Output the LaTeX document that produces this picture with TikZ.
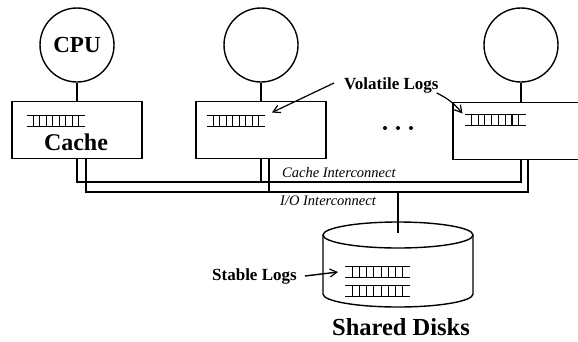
\documentclass[tikz,border=0pt]{standalone}
\usepackage{fontspec}
\setmainfont{Liberation Serif}
\usetikzlibrary{arrows.meta,calc}

\tikzset{
  unit/.style={circle, draw, line width=1.4pt, minimum size=74pt, inner sep=0pt},
  cachebox/.style={rectangle, draw, line width=1.4pt, minimum width=130pt, minimum height=57pt, inner sep=0pt},
  wire/.style={line width=1.6pt},
  bus/.style={line width=1.9pt},
  strip/.style={line width=1.4pt},
  rung/.style={line width=1.1pt},
  arr/.style={line width=1.2pt, -{Straight Barb[length=7pt, width=8pt, line width=1.2pt]}},
  biglabel/.style={font=\fontsize{24}{24}\selectfont\bfseries, inner sep=0pt},
  midlabel/.style={font=\fontsize{17}{17}\selectfont\bfseries, inner sep=0pt},
  buslabel/.style={font=\fontsize{14.5}{14.5}\selectfont\itshape, inner sep=0pt},
  pics/logstrip/.style={code={
    \node[minimum width=#1, minimum height=11pt, inner sep=0pt, outer sep=0pt] (-s) at (0,0) {};
    \draw[strip] (-s.north west) -- (-s.north east) (-s.south west) -- (-s.south east);
    \foreach \k in {1,...,8}
      \draw[rung] ($(-s.north west)!\k/9!(-s.north east)$) -- ($(-s.south west)!\k/9!(-s.south east)$);
  }}
}

\begin{document}
\begin{tikzpicture}[x=1pt, y=-1pt]
\useasboundingbox (0,0) rectangle (578,341);
\clip (0,0) rectangle (578,341);

% processors
\node[unit, font=\fontsize{23}{23}\selectfont\bfseries] (cpu1) at (77,45) {CPU};
\node[unit] (cpu2) at (261,45) {};
\node[unit] (cpu3) at (521,45) {};

% caches
\node[cachebox] (box1) at (77,130) {};
\node[cachebox] (box2) at (261,130) {};
\node[cachebox, minimum width=136pt] (box3) at (521,131) {};
\node[biglabel, anchor=base] (cachetxt) at (76,150) {Cache};

\draw[wire] (cpu1.south) -- (cpu1.south |- box1.north);
\draw[wire] (cpu2.south) -- (cpu2.south |- box2.north);
\draw[wire] (cpu3.south) -- (cpu3.south |- box3.north);

% volatile logs in each cache
\pic (L1) at (56,121) {logstrip=58pt};
\pic (L2) at (236,121) {logstrip=58pt};
\pic (L3) at (495,120) {logstrip=61pt};

% more processors
\fill (385,128) circle[radius=2] (398,128) circle[radius=2] (411,128) circle[radius=2];

% cache interconnect and I/O interconnect
\draw[bus] (box1.south) -- ++(0,23) -| (box3.south);
\draw[bus] ([xshift=9pt]box1.south) -- ++(0,33) -| ([xshift=7pt]box3.south);
\draw[wire] (box2.south) -- ++(0,23);
\draw[wire] ([xshift=8pt]box2.south) -- ++(0,33);
\node[buslabel, anchor=base west] (cachebus) at (282,177) {Cache Interconnect};
\node[buslabel, anchor=base west] (iobus) at (280,205) {I/O Interconnect};

% shared disks
\coordinate (disktop) at (398,233);
\coordinate (iotap) at (398,191);
\draw[line width=1.4pt] (398,235) ellipse[x radius=75, y radius=13];
\draw[line width=1.4pt] (323,235) -- (323,294) arc[start angle=180, end angle=0, x radius=75, y radius=13] -- (473,235);
\draw[wire] (iotap) -- (disktop);
\pic (S1) at (377.5,272) {logstrip=65pt};
\pic (S2) at (377.5,291) {logstrip=65pt};
\node[biglabel, font=\fontsize{24.5}{24.5}\selectfont\bfseries, anchor=base] (disks) at (401,335) {Shared Disks};

% log labels
\node[midlabel, anchor=base west] (vol) at (344,89) {Volatile Logs};
\node[midlabel, anchor=base west] (stab) at (212,280) {Stable Logs};
\draw[arr] ([shift={(-10,-2)}]vol.west) -- ([shift={(7,-3)}]L2-s.north east);
\draw[arr] ([xshift=-2pt]vol.south east) to[bend left=12] ([shift={(-2,-1)}]L3-s.north west);
\draw[arr, line width=1.4pt] ([xshift=8pt]stab.east) -- ([xshift=-7pt]S1-s.west);
\end{tikzpicture}
\end{document}
